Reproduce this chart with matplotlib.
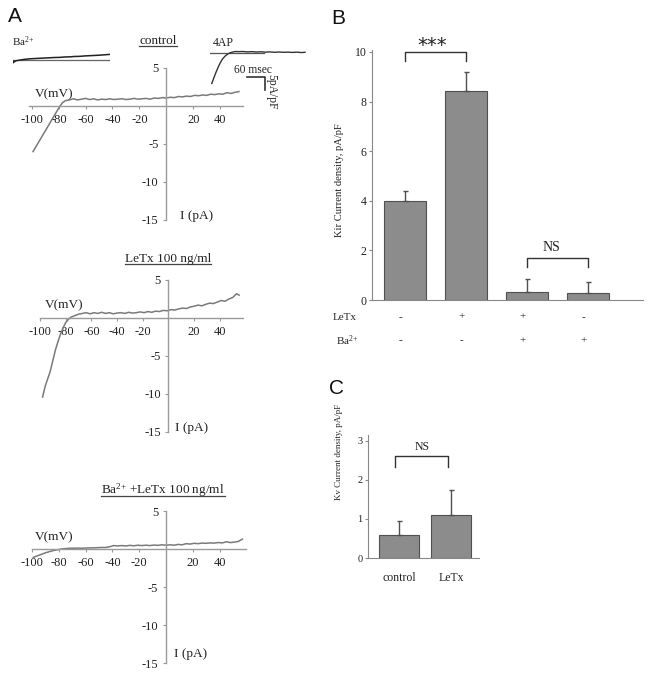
import numpy as np
import matplotlib
matplotlib.use('Agg')
import matplotlib.pyplot as plt
from matplotlib.lines import Line2D

plt.rcParams['font.family'] = ['Liberation Serif', 'DejaVu Serif']
plt.rcParams['mathtext.fontset'] = 'custom'
plt.rcParams['mathtext.rm'] = 'Liberation Serif'
plt.rcParams['mathtext.default'] = 'regular'
plt.rcParams['axes.unicode_minus'] = False

# --- panel A: I-V curves (mV, pA) ---
iv_xticks = [-100, -80, -60, -40, -20, 20, 40]
iv_yticks = [5, -5, -10, -15]

ctrl_v = [-99, -96, -93, -90, -87, -84, -81, -79, -77, -75,
          -72, -69, -66, -63, -60, -57, -54, -51, -48, -45, -42, -39, -36, -33,
          -30, -27, -24, -21, -18, -15, -12, -9, -6, -3,
          0, 3, 6, 9, 12, 15, 18, 21, 24, 27, 30, 33, 36, 39, 42, 45, 48, 51, 54]
ctrl_i = [-6.0, -5.1, -4.2, -3.3, -2.4, -1.5, -0.6, 0.0, 0.45, 0.7,
          0.8, 0.95, 0.8, 0.9, 1.0, 0.85, 0.95, 0.8, 0.9, 0.85, 0.95, 0.85, 0.9, 0.95,
          0.85, 0.9, 1.0, 0.9, 0.95, 1.0, 0.9, 1.05, 1.0, 1.1,
          1.05, 1.15, 1.1, 1.25, 1.2, 1.3, 1.25, 1.4, 1.35, 1.45, 1.4, 1.55, 1.5, 1.6,
          1.55, 1.75, 1.65, 1.8, 1.9]

letx_v = [-98, -96, -94, -92, -90, -88, -86, -84, -82, -80, -78, -76,
          -73, -70, -67, -64, -61, -58, -55, -52, -49, -46, -43, -40, -37,
          -34, -31, -28, -25, -22, -19, -16, -13, -10, -7, -4, -1,
          2, 5, 8, 11, 14, 17, 20, 23, 26, 29, 32, 35, 38, 41, 44, 47, 50, 53, 55]
letx_i = [-10.4, -9.0, -8.0, -7.0, -5.6, -4.2, -3.1, -2.1, -1.3, -0.6, -0.2, 0.1,
          0.3, 0.5, 0.6, 0.7, 0.55, 0.7, 0.6, 0.75, 0.6, 0.7, 0.55, 0.65, 0.7,
          0.6, 0.75, 0.65, 0.7, 0.8, 0.7, 0.85, 0.75, 0.9, 0.85, 1.0, 0.95,
          1.1, 1.05, 1.2, 1.3, 1.25, 1.45, 1.55, 1.7, 1.6, 1.8, 1.95, 1.9, 2.1,
          2.3, 2.2, 2.5, 2.7, 3.2, 3.0]

bal_v = [-99, -96, -93, -90, -87, -84, -81, -78, -75, -72, -69, -66, -63,
         -60, -57, -54, -51, -48, -45, -42, -39, -36, -33, -30, -27, -24,
         -21, -18, -15, -12, -9, -6, -3,
         0, 3, 6, 9, 12, 15, 18, 21, 24, 27, 30, 33, 36, 39, 42, 45, 48, 51, 54, 57]
bal_i = [-1.1, -0.9, -0.7, -0.5, -0.35, -0.2, -0.1, 0.0, 0.05, 0.1, 0.1, 0.12, 0.1,
         0.12, 0.15, 0.15, 0.18, 0.2, 0.2, 0.3, 0.45, 0.4, 0.45, 0.4, 0.48, 0.42,
         0.5, 0.45, 0.5, 0.45, 0.52, 0.48, 0.55,
         0.5, 0.55, 0.5, 0.6, 0.55, 0.7, 0.65, 0.75, 0.7, 0.78, 0.75, 0.8, 0.78,
         0.85, 0.8, 0.95, 0.85, 0.9, 1.0, 1.3]

# current traces (ms, pA/pF)
ba_t = [0, 2, 4, 8, 15, 25, 35, 50, 65, 80, 95, 110, 125, 140, 155, 170,
        185, 200, 215, 230, 245, 260, 275, 290]
ba_i = [-1.2, -0.6, -0.9, -0.5, -0.3, -0.1, 0.1, 0.3, 0.4, 0.5, 0.6, 0.7,
        0.8, 0.85, 1.0, 1.05, 1.2, 1.25, 1.4, 1.5, 1.6, 1.7, 1.85, 2.0]
ap_t = [6, 13, 20, 27, 34, 41, 50, 60, 72, 85, 95, 110, 125, 140,
        155, 170, 185, 200, 215, 230, 245, 260, 275, 290, 305, 317]
ap_i = [-11.7, -9.5, -7.4, -5.5, -3.8, -2.4, -1.2, -0.3, 0.3, 0.6, 0.55, 0.6,
        0.45, 0.55, 0.4, 0.5, 0.35, 0.45, 0.3, 0.4, 0.3, 0.35,
        0.25, 0.35, 0.2, 0.3]
scale_ms = 60
scale_pa = 5

# --- panel B ---
kir_means = [4.0, 8.43, 0.33, 0.29]
kir_err = [0.4, 0.75, 0.53, 0.43]
letx_row = ['-', '+', '+', '-']
ba_row = ['-', '-', '+', '+']

# --- panel C ---
kv_labels = ['control', 'LeTx']
kv_means = [0.6, 1.1]
kv_err = [0.35, 0.64]

BA = 'Ba$^{2{+}}$'

W, H = 652, 676
fig = plt.figure(figsize=(W / 100, H / 100), dpi=100)
TXT = '#222222'
AXC = '#9a9a9a'


def rect(l, t, r, b):
    return [l / W, 1 - b / H, (r - l) / W, (b - t) / H]


def iv_panel(box, xlim, v, i, vlab, ilab):
    ax = fig.add_axes(rect(*box))
    ax.patch.set_alpha(0)
    ax.set_xlim(xlim)
    ax.set_ylim(-15, 5)
    for s in ['top', 'right']:
        ax.spines[s].set_visible(False)
    for s in ['left', 'bottom']:
        ax.spines[s].set_position(('data', 0))
        ax.spines[s].set_color(AXC)
        ax.spines[s].set_linewidth(1.0)
    ax.set_xticks(iv_xticks)
    ax.set_xticklabels([str(t) for t in iv_xticks])
    ax.set_yticks(iv_yticks)
    ax.set_yticklabels([str(t) for t in iv_yticks])
    ax.tick_params(length=2, width=0.8, color=AXC, labelsize=9,
                   labelcolor=TXT, pad=3.5)
    ax.plot(v, i, color='#7a7a7a', lw=1.1)
    ax.text(vlab[0], vlab[1], 'V(mV)', fontsize=9.5, color=TXT,
            ha='left', va='center')
    ax.text(ilab[0], ilab[1], 'I (pA)', fontsize=9.5, color=TXT,
            ha='left', va='center')
    return ax


iv_panel((29, 68, 243, 220), (-102, 57), ctrl_v, ctrl_i, (-98, 1.6), (10, -14.5))
iv_panel((40, 280, 243, 432), (-100, 58), letx_v, letx_i, (-96, 1.7), (5, -14.5))
iv_panel((32, 511, 246, 663), (-100, 59.7), bal_v, bal_i, (-98, 1.6), (6, -13.8))

# titles with underline
titles = [('control', 158, 44), ('LeTx 100 ng/ml', 168, 262),
          (BA + ' +LeTx 100 ng/ml', 163, 494)]
title_objs = []
for s, x, yb in titles:
    t = fig.text(x / W, 1 - yb / H, s, fontsize=9.5, color=TXT,
                 ha='center', va='baseline')
    title_objs.append((t, yb))

# Ba2+ inset
ax_ba = fig.add_axes(rect(13, 45, 110, 70))
ax_ba.set_xlim(0, 290)
ax_ba.set_ylim(-4.0, 5.6)
ax_ba.axis('off')
ax_ba.plot([0, 290], [0, 0], color='#666666', lw=0.9)
ax_ba.plot(ba_t, ba_i, color='#222222', lw=1.1)
ax_ba.text(-3, 6.8, BA, fontsize=8, color=TXT, ha='left',
           va='center', clip_on=False)

# 4AP inset + scale bar
ax_ap = fig.add_axes(rect(210, 45, 308, 90))
ax_ap.set_xlim(0, 327)
ax_ap.set_ylim(-14.2, 3.1)
ax_ap.axis('off')
ax_ap.plot([0, 180], [0, 0], color='#555555', lw=0.9)
ax_ap.plot(ap_t, ap_i, color='#333333', lw=1.0)
ax_ap.text(43, 3.8, '4AP', fontsize=8.5, color=TXT, ha='center',
           va='center', clip_on=False)
sb_t0, sb_i0 = 123, -9.2
ax_ap.plot([sb_t0, sb_t0 + scale_ms, sb_t0 + scale_ms],
           [sb_i0, sb_i0, sb_i0 - scale_pa], color='#333333', lw=1.2,
           clip_on=False)
ax_ap.text(sb_t0 + scale_ms / 2 - 10, sb_i0 + 2.6, '%d msec' % scale_ms,
           fontsize=8.3, color=TXT, ha='center', va='center', clip_on=False)
ax_ap.text(sb_t0 + scale_ms + 22, sb_i0 - 5.8, '%dpA/pF' % scale_pa,
           fontsize=8.3, color=TXT, ha='center', va='center',
           rotation=270, clip_on=False)

# --- panel B ---
axb = fig.add_axes(rect(372, 50, 643, 300))
axb.patch.set_alpha(0)
xb = np.arange(len(kir_means))
axb.bar(xb, kir_means, width=0.69, color='#8c8c8c', edgecolor='#505050',
        linewidth=0.8, zorder=2)
axb.errorbar(xb, kir_means, yerr=[np.zeros(len(kir_err)), kir_err], fmt='none',
             ecolor='#505050', elinewidth=1.0, capsize=1.8, capthick=1.0, zorder=3)
axb.set_xlim(-0.54, 3.9)
axb.set_ylim(0, 10.08)
axb.set_yticks([0, 2, 4, 6, 8, 10])
axb.set_xticks([])
for s in ['top', 'right']:
    axb.spines[s].set_visible(False)
for s in ['left', 'bottom']:
    axb.spines[s].set_color('#888888')
axb.tick_params(axis='y', length=2, color='#888888', labelsize=8.5,
                labelcolor=TXT, pad=2)
axb.plot([0, 0, 1, 1], [9.64, 10.0, 10.0, 9.64], color='#333333', lw=1.0,
         clip_on=False)
axb.text(0.45, 10.25, '***', fontsize=14, color=TXT, ha='center',
         va='center', family=['DejaVu Sans'], clip_on=False)
axb.plot([2, 2, 3, 3], [1.33, 1.69, 1.69, 1.33], color='#333333', lw=1.0)
axb.text(2.4, 2.1, 'NS', fontsize=10, color=TXT, ha='center', va='center')
axb.text(-1.18, -0.69, 'LeTx', fontsize=8, color=TXT, ha='left', va='center',
         clip_on=False)
axb.text(-1.13, -1.65, BA, fontsize=8, color=TXT, ha='left',
         va='center', clip_on=False)
for k in range(len(xb)):
    axb.text(xb[k] - 0.07, -0.69, letx_row[k], fontsize=8, color=TXT,
             ha='center', va='center', clip_on=False)
    axb.text(xb[k] - 0.07, -1.65, ba_row[k], fontsize=8, color=TXT,
             ha='center', va='center', clip_on=False)
fig.text(339 / W, 1 - 180 / H, 'Kir Current density, pA/pF', fontsize=7.6,
         color=TXT, rotation=90, ha='center', va='center')

# --- panel C ---
axc = fig.add_axes(rect(368, 435, 479, 558))
axc.patch.set_alpha(0)
xc = np.arange(len(kv_means))
axc.bar(xc, kv_means, width=0.77, color='#8c8c8c', edgecolor='#505050',
        linewidth=0.8, zorder=2)
axc.errorbar(xc, kv_means, yerr=[np.zeros(len(kv_err)), kv_err], fmt='none',
             ecolor='#505050', elinewidth=1.0, capsize=1.8, capthick=1.0, zorder=3)
axc.set_xlim(-0.6, 1.54)
axc.set_ylim(0, 3.15)
axc.set_yticks([0, 1, 2, 3])
axc.set_xticks(xc)
axc.set_xticklabels(kv_labels)
for s in ['top', 'right']:
    axc.spines[s].set_visible(False)
for s in ['left', 'bottom']:
    axc.spines[s].set_color('#888888')
axc.tick_params(axis='y', length=2, color='#888888', labelsize=7.5,
                labelcolor=TXT, pad=2)
axc.tick_params(axis='x', length=0, labelsize=8.5, labelcolor=TXT, pad=10)
axc.plot([-0.08, -0.08, 0.95, 0.95], [2.33, 2.6, 2.6, 2.33], color='#333333',
         lw=1.0, clip_on=False)
axc.text(0.44, 2.85, 'NS', fontsize=8.5, color=TXT, ha='center', va='center')
fig.text(339 / W, 1 - 452 / H, 'Kv Current density, pA/pF', fontsize=6.5,
         color=TXT, rotation=90, ha='center', va='center')

# panel letters
for lab, x, y in [('A', 15, 17), ('B', 338, 19), ('C', 337, 388)]:
    fig.text(x / W, 1 - y / H, lab, fontsize=15, family=['Liberation Sans'],
             color='#111111', ha='center', va='center')

# underline titles
fig.canvas.draw()
for t, yb in title_objs:
    bb = t.get_window_extent()
    yl = (H - yb - 2) / H
    fig.add_artist(Line2D([bb.x0 / W, bb.x1 / W], [yl, yl], color='#444444',
                          lw=0.9, transform=fig.transFigure))

fig.savefig('out.png', dpi=100)
